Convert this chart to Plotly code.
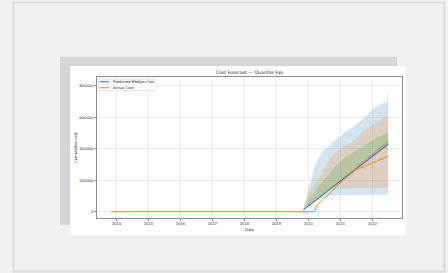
import plotly.graph_objects as go

# ---------------- data ----------------
actual_dates = ["2013-11-01", "2020-03-10", "2020-04-15", "2020-05-05", "2020-08-10",
                "2021-01-01", "2021-06-20", "2022-06-28"]
actual_cost = [0, 0, 45000, 55000, 105000, 185000, 265000, 352000]

fc_dates = ["2019-11-05", "2020-01-01", "2020-03-01", "2020-05-01", "2020-07-01", "2020-09-01",
            "2020-11-01", "2021-01-01", "2021-03-01", "2021-05-01", "2021-07-01", "2021-09-01",
            "2021-11-01", "2022-01-01", "2022-03-01", "2022-05-01", "2022-06-20", "2022-06-30"]
median = [12000, 36000, 63000, 88000, 115000, 142000, 167000, 194000, 219000, 246000,
          273000, 300000, 325000, 352000, 377000, 404000, 426000, 430000]
q05 = [12000, 28000, 52000, 75000, 97000, 105000, 105000, 105000, 105000, 105000,
       105000, 105000, 105000, 105000, 105000, 105000, 105000, 108000]
q95 = [12000, 130000, 265000, 345000, 395000, 420000, 455000, 480000, 510000, 530000,
       555000, 580000, 610000, 650000, 673000, 690000, 700000, 815000]
q10 = [12000, 32000, 58000, 83000, 108000, 135000, 150000, 150000, 150000, 150000,
       150000, 150000, 150000, 150000, 150000, 150000, 150000, 152000]
q90 = [12000, 110000, 170000, 215000, 280000, 335000, 370000, 400000, 425000, 435000,
       465000, 505000, 530000, 548000, 575000, 595000, 610000, 640000]
q25 = [12000, 35000, 62000, 86000, 113000, 139000, 164000, 190000, 215000, 241000,
       268000, 294000, 319000, 345000, 370000, 396000, 418000, 422000]
q75 = [12000, 65000, 120000, 165000, 205000, 250000, 290000, 320000, 350000, 370000,
       390000, 410000, 430000, 450000, 470000, 490000, 505000, 512000]
q40 = [12000, 35500, 62500, 87000, 114000, 140500, 165500, 192000, 217000, 243500,
       270500, 297000, 322000, 348500, 373500, 400000, 422000, 426000]
q60 = [12700, 38000, 67000, 93000, 122000, 151000, 177000, 206000, 232000, 261000,
       289000, 318000, 345000, 373000, 400000, 428000, 452000, 456000]

y_ticks = [0, 200000, 400000, 600000, 800000]
x_ticks = ["2014-01-01", "2015-01-01", "2016-01-01", "2017-01-01", "2018-01-01",
           "2019-01-01", "2020-01-01", "2021-01-01", "2022-01-01"]
x_tick_text = ["2014", "2015", "2016", "2017", "2018", "2019", "2020", "2021", "2022"]

# ---------------- layout geometry (pixels) ----------------
W, H = 448, 273
PL, PR, PT, PB = 97, 402, 77, 218


def px(x):
    return (x - PL) / (PR - PL)


def py(y):
    return (PB - y) / (PB - PT)


FONT = "DejaVu Sans"
fig = go.Figure()

bands = [
    (q05, q95, "rgba(31,119,180,0.2)"),
    (q10, q90, "rgba(255,127,14,0.2)"),
    (q25, q75, "rgba(44,160,44,0.2)"),
    (q40, q60, "rgba(214,39,40,0.2)"),
]
for lo, hi, col in bands:
    fig.add_trace(go.Scatter(x=fc_dates, y=lo, mode="lines", line=dict(width=0),
                             showlegend=False, hoverinfo="skip"))
    fig.add_trace(go.Scatter(x=fc_dates, y=hi, mode="lines", line=dict(width=0),
                             fill="tonexty", fillcolor=col, showlegend=False,
                             hoverinfo="skip"))

fig.add_trace(go.Scatter(x=fc_dates, y=median, mode="lines", name="Predicted Median Cost",
                         line=dict(color="#1f77b4", width=1.0), showlegend=False))
fig.add_trace(go.Scatter(x=actual_dates, y=actual_cost, mode="lines", name="Actual Cost",
                         line=dict(color="#ff7f0e", width=1.0), showlegend=False))

shapes = [
    # outer frame
    dict(type="rect", xref="paper", yref="paper", x0=px(13.5), x1=px(444.5),
         y0=py(2.5), y1=py(271.5), line=dict(color="#d9d9d9", width=2),
         fillcolor="#f1f1f1", layer="below"),
    # shadow
    dict(type="rect", xref="paper", yref="paper", x0=px(60), x1=px(397),
         y0=py(57), y1=py(225), line=dict(width=0), fillcolor="#d6d6d6", layer="below"),
    # white chart card
    dict(type="rect", xref="paper", yref="paper", x0=px(70), x1=px(406),
         y0=py(66), y1=py(235), line=dict(width=0), fillcolor="#ffffff", layer="below"),
    # legend box
    dict(type="rect", xref="paper", yref="paper", x0=px(98.5), x1=px(156),
         y0=py(79), y1=py(90.5), line=dict(color="#d5d5d5", width=0.6),
         fillcolor="rgba(255,255,255,0.85)", layer="above"),
    dict(type="line", xref="paper", yref="paper", x0=px(100), x1=px(109),
         y0=py(81.8), y1=py(81.8), line=dict(color="#1f77b4", width=1.0), layer="above"),
    dict(type="line", xref="paper", yref="paper", x0=px(100), x1=px(109),
         y0=py(87.8), y1=py(87.8), line=dict(color="#ff7f0e", width=1.0), layer="above"),
]

annotations = [
    dict(text="Predicted Median Cost", xref="paper", yref="paper", x=px(111), y=py(81.8),
         xanchor="left", yanchor="middle", showarrow=False,
         font=dict(family=FONT, size=3.7, color="#222")),
    dict(text="Actual Cost", xref="paper", yref="paper", x=px(111), y=py(87.8),
         xanchor="left", yanchor="middle", showarrow=False,
         font=dict(family=FONT, size=3.7, color="#222")),
    dict(text="Date", xref="paper", yref="paper", x=0.5, y=py(229),
         xanchor="center", yanchor="middle", showarrow=False,
         font=dict(family=FONT, size=3.8, color="#222")),
    dict(text="Cumulative cost", xref="paper", yref="paper", x=px(75.5), y=0.5,
         xanchor="center", yanchor="middle", showarrow=False, textangle=-90,
         font=dict(family=FONT, size=3.8, color="#222")),
]

axis_common = dict(showline=True, mirror=True, linecolor="#8c8c8c", linewidth=1,
                   ticks="outside", ticklen=2, tickcolor="#8c8c8c", tickwidth=0.8,
                   showgrid=True, gridcolor="#ececec", gridwidth=0.8, zeroline=False,
                   tickfont=dict(family=FONT, size=3.7, color="#222"))

fig.update_layout(
    width=W, height=H, autosize=False,
    margin=dict(l=PL, r=W - PR, t=PT, b=H - PB, pad=0),
    paper_bgcolor="#f1f1f1", plot_bgcolor="rgba(0,0,0,0)",
    showlegend=False,
    title=dict(text="Cost Forecast — Quantile Fan", x=0.5, xref="paper",
               y=1 - 72 / H, yref="container", xanchor="center", yanchor="middle",
               font=dict(family=FONT, size=4.6, color="#222")),
    xaxis=dict(type="date", range=["2013-05-25", "2022-12-05"],
               tickvals=x_ticks, ticktext=x_tick_text, **axis_common),
    yaxis=dict(range=[-40000, 857000], tickvals=y_ticks,
               ticktext=[str(v) for v in y_ticks], **axis_common),
    shapes=shapes, annotations=annotations,
)

fig.write_html(
    "out.html",
    config={"displayModeBar": False},
    post_script="document.body.style.margin='0';document.body.style.overflow='hidden';"
                "document.body.style.background='#f1f1f1';",
)
